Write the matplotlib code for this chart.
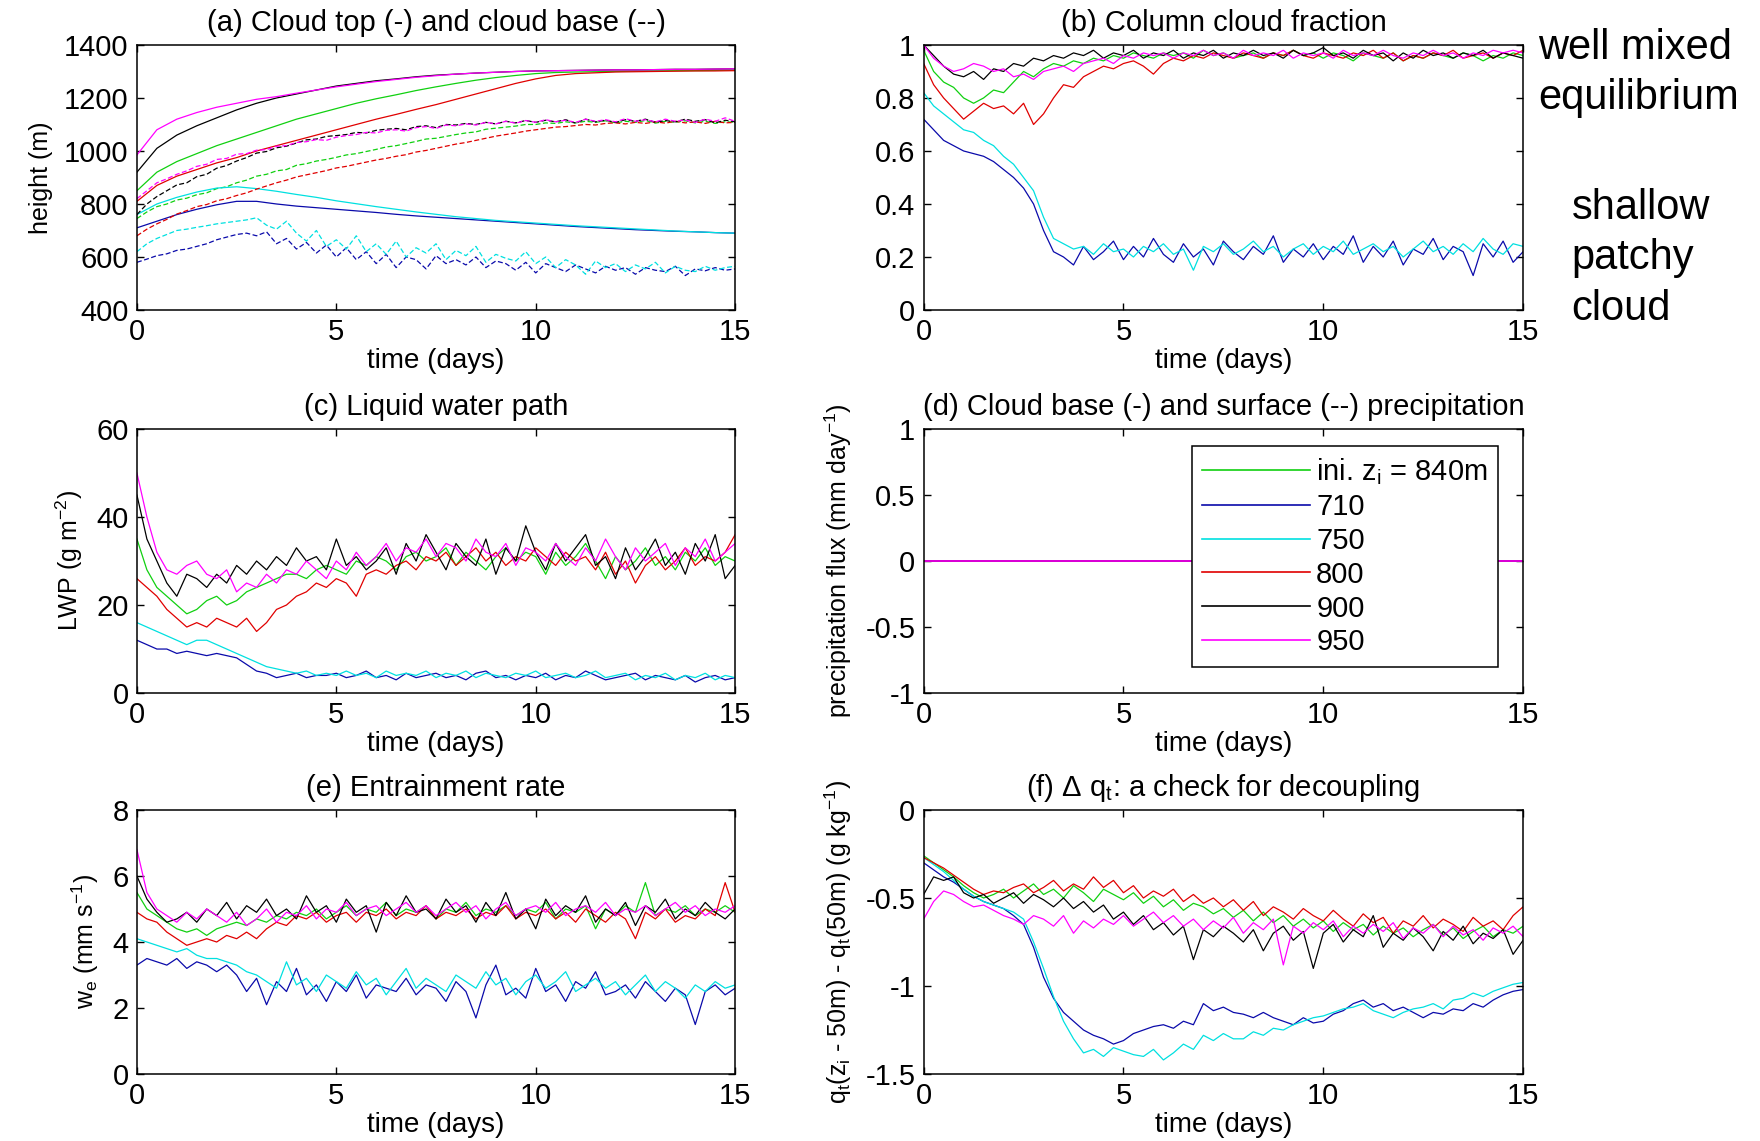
import numpy as np
import matplotlib
matplotlib.use("Agg")
import matplotlib.pyplot as plt
from matplotlib.ticker import FuncFormatter

plt.rcParams['font.family'] = ['Liberation Sans', 'DejaVu Sans']
plt.rcParams['mathtext.default'] = 'regular'

# time axes (days)
t = np.arange(61) * 0.25        # noisy series, every 6 h
t_top = np.arange(31) * 0.5     # smooth cloud-top series

runs = ["ini. z$_i$ = 840m", "710", "750", "800", "900", "950"]
colors = ["#10d010", "#0a0aaa", "#00e0e0", "#e00000", "#000000", "#ff00ff"]

# (a) cloud top (solid) and cloud base (dashed), m
grn_top = [850, 920, 960, 990, 1020, 1045, 1070, 1095, 1120, 1140, 1160, 1180, 1197, 1212, 1228, 1242,
           1255, 1267, 1277, 1285, 1292, 1296, 1298, 1299, 1300, 1301, 1302, 1303, 1303, 1304, 1305]
blu_top = [710, 735, 760, 780, 797, 810, 810, 800, 792, 786, 780, 774, 768, 761, 755, 750,
           745, 740, 735, 730, 725, 720, 715, 711, 707, 703, 700, 697, 695, 692, 690]
cyn_top = [760, 800, 825, 845, 860, 865, 858, 848, 836, 825, 812, 801, 790, 780, 770, 761,
           752, 745, 738, 733, 728, 723, 718, 714, 710, 706, 702, 698, 695, 692, 690]
red_top = [810, 870, 905, 930, 955, 975, 1000, 1020, 1040, 1060, 1080, 1100, 1120, 1138, 1157, 1175,
           1195, 1215, 1235, 1255, 1272, 1285, 1292, 1295, 1298, 1299, 1300, 1301, 1302, 1302, 1303]
blk_top = [920, 1010, 1060, 1095, 1125, 1155, 1180, 1200, 1215, 1230, 1245, 1255, 1265, 1272, 1280, 1286,
           1290, 1294, 1297, 1300, 1302, 1303, 1304, 1305, 1306, 1306, 1307, 1308, 1308, 1309, 1310]
mag_top = [985, 1080, 1120, 1145, 1165, 1180, 1195, 1205, 1218, 1230, 1242, 1252, 1262, 1270, 1278, 1284,
           1290, 1294, 1297, 1300, 1302, 1303, 1304, 1305, 1306, 1306, 1307, 1308, 1308, 1309, 1310]

grn_base = [745, 770, 790, 800, 815, 822, 835, 842, 858, 865,
            880, 890, 905, 912, 925, 930, 946, 952, 962, 968,
            976, 985, 990, 998, 1006, 1015, 1020, 1028, 1036, 1045,
            1048, 1055, 1062, 1068, 1072, 1082, 1086, 1090, 1094, 1100,
            1100, 1106, 1104, 1110, 1106, 1112, 1108, 1114, 1106, 1112,
            1108, 1115, 1105, 1112, 1108, 1114, 1106, 1112, 1104, 1110,
            1108]
blu_base = [580, 592, 605, 612, 625, 630, 640, 650, 665, 675,
            685, 690, 680, 695, 650, 670, 630, 655, 615, 645,
            600, 635, 590, 620, 575, 610, 560, 600, 590, 555,
            605, 575, 590, 570, 600, 560, 585, 575, 550, 580,
            540, 575, 560, 545, 570, 555, 540, 565, 550, 560,
            535, 560, 550, 545, 565, 530, 555, 548, 560, 550,
            555]
cyn_base = [620, 650, 670, 685, 700, 705, 712, 718, 725, 730,
            735, 740, 748, 720, 705, 735, 690, 660, 700, 640,
            665, 630, 680, 620, 650, 610, 660, 600, 635, 615,
            650, 590, 625, 605, 640, 580, 610, 595, 585, 620,
            575, 600, 560, 590, 570, 535, 585, 560, 575, 545,
            570, 555, 580, 540, 565, 550, 545, 565, 550, 560,
            565]
red_base = [680, 705, 725, 742, 762, 775, 790, 798, 812, 820,
            832, 842, 856, 868, 880, 890, 902, 910, 918, 926,
            936, 942, 950, 958, 966, 972, 980, 986, 996, 1002,
            1010, 1018, 1026, 1032, 1040, 1048, 1056, 1062, 1068, 1075,
            1080, 1085, 1090, 1092, 1096, 1100, 1098, 1104, 1106, 1102,
            1108, 1104, 1110, 1105, 1112, 1106, 1110, 1104, 1112, 1106,
            1108]
blk_base = [760, 800, 828, 850, 872, 880, 903, 912, 935, 945,
            962, 975, 992, 998, 1012, 1018, 1030, 1042, 1045, 1055,
            1058, 1062, 1070, 1068, 1078, 1082, 1085, 1080, 1092, 1095,
            1088, 1100, 1098, 1104, 1100, 1108, 1102, 1112, 1106, 1115,
            1108, 1116, 1110, 1118, 1105, 1120, 1110, 1116, 1108, 1118,
            1112, 1120, 1108, 1115, 1110, 1120, 1112, 1118, 1106, 1116,
            1110]
mag_base = [820, 850, 880, 895, 912, 925, 942, 950, 968, 972,
            988, 990, 1003, 1005, 1018, 1020, 1032, 1035, 1043, 1040,
            1052, 1058, 1062, 1070, 1068, 1078, 1080, 1075, 1088, 1092,
            1085, 1098, 1095, 1102, 1098, 1108, 1102, 1112, 1105, 1115,
            1108, 1118, 1110, 1116, 1108, 1120, 1112, 1118, 1110, 1122,
            1112, 1118, 1110, 1120, 1112, 1117, 1108, 1120, 1112, 1125,
            1112]

# (b) column cloud fraction
grn_cf = [0.98, 0.90, 0.86, 0.84, 0.80, 0.78, 0.80, 0.83, 0.82, 0.86,
          0.90, 0.88, 0.91, 0.93, 0.92, 0.94, 0.93, 0.95, 0.94, 0.96,
          0.95, 0.97, 0.96, 0.95, 0.97, 0.96, 0.97, 0.95, 0.98, 0.96,
          0.97, 0.95, 0.96, 0.97, 0.95, 0.97, 0.96, 0.98, 0.96, 0.97,
          0.95, 0.97, 0.96, 0.94, 0.97, 0.96, 0.95, 0.97, 0.94, 0.96,
          0.95, 0.97, 0.96, 0.95, 0.97, 0.96, 0.94, 0.96, 0.95, 0.97,
          0.96]
blu_cf = [0.72, 0.68, 0.64, 0.62, 0.60, 0.59, 0.58, 0.56, 0.53, 0.50,
          0.46, 0.40, 0.30, 0.22, 0.20, 0.17, 0.24, 0.19, 0.22, 0.26,
          0.19, 0.24, 0.20, 0.27, 0.21, 0.18, 0.25, 0.20, 0.23, 0.17,
          0.26, 0.22, 0.19, 0.24, 0.21, 0.28, 0.18, 0.23, 0.20, 0.25,
          0.19, 0.24, 0.21, 0.28, 0.18, 0.24, 0.20, 0.26, 0.17, 0.23,
          0.21, 0.27, 0.19, 0.24, 0.22, 0.13, 0.25, 0.20, 0.26, 0.18,
          0.22]
cyn_cf = [0.82, 0.77, 0.74, 0.71, 0.68, 0.67, 0.64, 0.62, 0.58, 0.55,
          0.50, 0.45, 0.35, 0.27, 0.25, 0.23, 0.24, 0.21, 0.25, 0.22,
          0.23, 0.20, 0.24, 0.22, 0.25, 0.21, 0.23, 0.15, 0.24, 0.22,
          0.25, 0.21, 0.23, 0.26, 0.22, 0.24, 0.20, 0.23, 0.25, 0.21,
          0.24, 0.22, 0.26, 0.21, 0.23, 0.25, 0.22, 0.24, 0.20, 0.23,
          0.26, 0.22, 0.24, 0.21, 0.25, 0.22, 0.27, 0.23, 0.21, 0.25,
          0.24]
red_cf = [0.93, 0.85, 0.80, 0.76, 0.72, 0.75, 0.78, 0.76, 0.77, 0.74,
          0.78, 0.70, 0.74, 0.80, 0.85, 0.84, 0.88, 0.90, 0.92, 0.91,
          0.93, 0.94, 0.92, 0.89, 0.93, 0.95, 0.94, 0.96, 0.95, 0.97,
          0.96, 0.95, 0.97, 0.96, 0.95, 0.97, 0.96, 0.98, 0.96, 0.95,
          0.97, 0.96, 0.95, 0.97, 0.96, 0.98, 0.95, 0.97, 0.94, 0.96,
          0.95, 0.97, 0.96, 0.98, 0.95, 0.96, 0.97, 0.95, 0.97, 0.96,
          0.98]
blk_cf = [1.00, 0.96, 0.92, 0.89, 0.88, 0.90, 0.87, 0.91, 0.90, 0.93,
          0.92, 0.95, 0.94, 0.96, 0.95, 0.97, 0.96, 0.98, 0.95, 0.97,
          0.96, 0.98, 0.95, 0.97, 0.96, 0.98, 0.95, 0.97, 0.96, 0.98,
          0.95, 0.97, 0.96, 0.98, 0.96, 0.97, 0.95, 0.98, 0.96, 0.97,
          0.99, 0.96, 0.97, 0.95, 0.98, 0.96, 0.97, 0.94, 0.97, 0.95,
          0.98, 0.96, 0.97, 0.95, 0.97, 0.96, 0.98, 0.95, 0.97, 0.96,
          0.95]
mag_cf = [1.00, 0.95, 0.92, 0.90, 0.91, 0.93, 0.92, 0.90, 0.91, 0.88,
          0.89, 0.87, 0.90, 0.91, 0.92, 0.90, 0.93, 0.94, 0.95, 0.93,
          0.96, 0.95, 0.97, 0.96, 0.97, 0.95, 0.97, 0.96, 0.98, 0.96,
          0.97, 0.95, 0.98, 0.96, 0.97, 0.96, 0.98, 0.95, 0.97, 0.96,
          0.97, 0.95, 0.98, 0.96, 0.97, 0.96, 0.98, 0.96, 0.95, 0.97,
          0.96, 0.98, 0.96, 0.97, 0.95, 0.97, 0.96, 0.98, 0.97, 0.98,
          0.97]

# (c) liquid water path, g m-2
grn_lwp = [35, 28, 24, 22, 20, 18, 19, 21, 22, 20,
           21, 23, 24, 25, 26, 27, 27, 26, 28, 29,
           28, 27, 30, 29, 31, 30, 28, 31, 32, 30,
           31, 33, 29, 32, 30, 28, 31, 33, 30, 32,
           31, 27, 32, 29, 31, 34, 30, 26, 31, 28,
           30, 33, 29, 31, 28, 32, 30, 33, 29, 31,
           30]
blu_lwp = [12, 11, 10, 10, 9, 9.5, 9, 8.5, 9, 8.5,
           8, 6.5, 5, 4.5, 3.5, 4, 4.5, 3.5, 4, 4,
           4.5, 3.5, 4, 5, 3.5, 4, 3, 4.5, 3.5, 4,
           4.5, 3.5, 4, 3, 4.5, 5, 3.5, 4, 3, 4,
           3.5, 4.5, 3, 4, 3.5, 5, 4, 3, 3.5, 4,
           4.5, 3, 4, 3.5, 3, 4, 2.5, 3.5, 4, 3,
           3.5]
cyn_lwp = [16, 15, 14, 13, 12, 11, 12, 12, 11, 10,
           9, 8, 7, 6, 5.5, 5, 4.5, 5, 4, 4.5,
           4, 5, 4, 4.5, 3.5, 5, 4, 4.5, 4, 5,
           3.5, 4.5, 4, 5, 3.5, 4.5, 4, 3.5, 4.5, 4,
           5, 3.5, 4, 4.5, 3.5, 4, 5, 3.5, 4, 4.5,
           3, 4, 3.5, 4.5, 3, 4, 3.5, 4.5, 3, 4,
           3.5]
red_lwp = [26, 24, 22, 19, 17, 15, 16, 15, 17, 16,
           15, 17, 14, 16, 19, 20, 22, 23, 25, 24,
           26, 25, 22, 27, 28, 27, 29, 30, 28, 31,
           30, 32, 29, 31, 33, 30, 32, 29, 31, 30,
           33, 31, 29, 32, 30, 31, 28, 32, 27, 30,
           25, 29, 31, 28, 30, 33, 29, 31, 30, 32,
           36]
blk_lwp = [45, 35, 30, 25, 22, 27, 26, 24, 27, 25,
           29, 27, 30, 28, 31, 29, 33, 30, 31, 28,
           35, 29, 31, 28, 30, 33, 27, 34, 30, 36,
           32, 28, 34, 31, 29, 35, 27, 33, 30, 38,
           32, 28, 34, 30, 33, 36, 29, 31, 26, 33,
           28, 31, 35, 29, 32, 27, 34, 30, 36, 26,
           29]
mag_lwp = [50, 40, 32, 28, 27, 29, 30, 27, 26, 28,
           23, 25, 24, 27, 25, 28, 27, 30, 28, 26,
           30, 28, 32, 29, 31, 34, 30, 33, 32, 35,
           31, 34, 33, 30, 35, 32, 31, 34, 29, 33,
           32, 30, 34, 31, 29, 33, 30, 35, 31, 28,
           33, 30, 32, 34, 29, 33, 31, 35, 30, 32,
           34]

# (d) precipitation is zero in every run
precip_zero = [0.0] * 61

# (e) entrainment rate, mm s-1
grn_we = [5.5, 5.0, 4.8, 4.6, 4.4, 4.3, 4.4, 4.2, 4.4, 4.5,
          4.6, 4.5, 4.7, 4.6, 4.8, 4.7, 4.9, 4.8, 5.0, 4.7,
          4.9, 5.1, 4.8, 5.0, 4.9, 5.2, 4.8, 5.0, 4.9, 5.1,
          4.7, 5.0, 4.9, 5.2, 4.8, 5.0, 4.9, 5.1, 4.8, 5.0,
          4.9, 5.2, 4.7, 5.0, 4.9, 5.1, 4.4, 5.0, 4.8, 5.1,
          4.9, 5.8, 4.8, 5.0, 4.9, 5.1, 4.8, 5.0, 4.9, 5.1,
          4.9]
blu_we = [3.3, 3.5, 3.4, 3.3, 3.5, 3.2, 3.4, 3.3, 3.1, 3.3,
          3.0, 2.5, 2.9, 2.1, 2.8, 2.5, 3.2, 2.4, 2.7, 2.2,
          2.8, 2.5, 3.0, 2.3, 2.7, 2.6, 2.5, 2.9, 2.4, 2.7,
          2.6, 2.2, 2.8, 2.5, 1.7, 2.7, 3.3, 2.4, 2.6, 2.3,
          3.2, 2.5, 2.7, 2.2, 2.8, 2.6, 3.1, 2.4, 2.5, 2.7,
          2.3, 2.8, 2.5, 2.2, 2.6, 2.4, 1.5, 2.5, 2.7, 2.4,
          2.6]
cyn_we = [4.1, 4.0, 3.9, 3.8, 3.7, 3.8, 3.6, 3.5, 3.5, 3.4,
          3.3, 3.1, 3.0, 2.8, 2.6, 3.4, 2.7, 2.9, 2.5, 3.0,
          2.8, 2.6, 3.1, 2.7, 2.9, 2.4, 2.8, 3.2, 2.6, 2.9,
          2.7, 2.5, 3.0, 2.8, 2.6, 3.1, 2.7, 2.9, 2.4, 2.8,
          3.0, 2.6, 2.8, 3.1, 2.5, 2.7, 2.9, 2.6, 2.8, 2.4,
          2.7, 3.0, 2.5, 2.8, 2.6, 2.3, 2.7, 2.5, 2.8, 2.6,
          2.7]
red_we = [4.9, 4.7, 4.6, 4.3, 4.1, 3.9, 4.0, 4.1, 4.0, 4.2,
          4.1, 4.3, 4.1, 4.4, 4.6, 4.5, 4.8, 4.7, 4.9, 4.6,
          4.8, 4.9, 4.6, 4.9, 4.8, 5.0, 4.7, 4.9, 4.8, 5.1,
          4.7, 4.9, 4.8, 5.0, 4.7, 4.9, 4.8, 5.1, 4.7, 4.9,
          4.8, 5.0, 4.7, 4.9, 4.6, 5.0, 4.8, 4.6, 4.9, 4.7,
          4.1, 4.9, 4.7, 5.0, 4.6, 4.8, 4.7, 5.0, 4.8, 5.8,
          4.9]
blk_we = [6.0, 5.3, 4.9, 4.6, 4.7, 4.9, 4.6, 5.0, 4.8, 5.2,
          4.7, 5.1, 4.9, 5.3, 4.8, 5.0, 4.7, 5.4, 4.9, 5.1,
          4.6, 5.3, 4.9, 5.1, 4.3, 5.2, 4.8, 5.4, 4.9, 5.0,
          4.7, 5.3, 4.9, 5.1, 4.6, 5.2, 4.8, 5.5, 4.7, 5.0,
          4.4, 5.3, 4.8, 5.1, 4.9, 5.4, 4.6, 5.0, 4.8, 5.2,
          4.5, 5.1, 4.9, 5.3, 4.7, 5.0, 4.8, 5.2, 4.9, 4.7,
          5.0]
mag_we = [6.8, 5.5, 5.0, 4.8, 4.6, 4.9, 4.7, 5.0, 4.8, 4.6,
          4.9, 4.5, 4.7, 5.0, 4.6, 4.9, 4.8, 5.1, 4.7, 5.0,
          4.9, 5.2, 4.8, 5.0, 5.1, 4.8, 5.0, 5.2, 4.9, 5.1,
          4.8, 5.0, 5.2, 4.9, 5.1, 4.7, 5.0, 5.2, 4.8, 5.0,
          5.1, 4.9, 5.2, 4.8, 5.0, 5.1, 4.9, 5.2, 4.8, 5.0,
          4.9, 5.1, 4.8, 5.0, 5.2, 4.9, 5.1, 4.8, 5.0, 4.9,
          5.1]

# (f) qt(zi - 50m) - qt(50m), g kg-1
grn_dq = [-0.26, -0.30, -0.34, -0.38, -0.43, -0.47, -0.50, -0.48, -0.45, -0.50,
          -0.46, -0.42, -0.48, -0.45, -0.50, -0.43, -0.47, -0.52, -0.45, -0.48,
          -0.51, -0.47, -0.53, -0.49, -0.55, -0.51, -0.57, -0.53, -0.55, -0.59,
          -0.56, -0.61, -0.57, -0.63, -0.58, -0.64, -0.60, -0.66, -0.62, -0.67,
          -0.63, -0.69, -0.64, -0.68, -0.65, -0.71, -0.66, -0.70, -0.67, -0.72,
          -0.68, -0.65, -0.71, -0.67, -0.73, -0.69, -0.66, -0.72, -0.68, -0.70,
          -0.66]
blu_dq = [-0.30, -0.34, -0.38, -0.41, -0.45, -0.49, -0.52, -0.54, -0.56, -0.60,
          -0.65, -0.78, -0.95, -1.07, -1.15, -1.20, -1.25, -1.28, -1.30, -1.33,
          -1.31, -1.27, -1.25, -1.23, -1.22, -1.24, -1.20, -1.22, -1.10, -1.14,
          -1.12, -1.15, -1.16, -1.18, -1.15, -1.18, -1.20, -1.22, -1.18, -1.21,
          -1.20, -1.16, -1.14, -1.10, -1.08, -1.12, -1.10, -1.14, -1.12, -1.15,
          -1.18, -1.15, -1.16, -1.13, -1.14, -1.10, -1.12, -1.08, -1.05, -1.03,
          -1.02]
cyn_dq = [-0.27, -0.31, -0.35, -0.40, -0.45, -0.49, -0.52, -0.54, -0.56, -0.58,
          -0.62, -0.75, -0.90, -1.06, -1.20, -1.30, -1.38, -1.36, -1.40, -1.35,
          -1.37, -1.39, -1.40, -1.36, -1.42, -1.38, -1.33, -1.36, -1.28, -1.31,
          -1.27, -1.30, -1.30, -1.26, -1.28, -1.24, -1.25, -1.22, -1.20, -1.18,
          -1.17, -1.15, -1.13, -1.12, -1.10, -1.14, -1.16, -1.18, -1.15, -1.13,
          -1.12, -1.10, -1.13, -1.08, -1.07, -1.04, -1.06, -1.03, -1.01, -0.99,
          -0.98]
red_dq = [-0.27, -0.30, -0.33, -0.37, -0.41, -0.45, -0.48, -0.46, -0.47, -0.44,
          -0.42, -0.47, -0.44, -0.40, -0.46, -0.42, -0.45, -0.38, -0.44, -0.40,
          -0.47, -0.43, -0.50, -0.46, -0.49, -0.45, -0.52, -0.48, -0.53, -0.50,
          -0.55, -0.51, -0.57, -0.52, -0.60, -0.55, -0.58, -0.62, -0.56, -0.60,
          -0.63, -0.57, -0.62, -0.66, -0.59, -0.64, -0.61, -0.70, -0.63, -0.66,
          -0.60, -0.67, -0.62, -0.65, -0.69, -0.61, -0.66, -0.63, -0.68, -0.60,
          -0.55]
blk_dq = [-0.48, -0.38, -0.40, -0.38, -0.47, -0.50, -0.48, -0.53, -0.50, -0.47,
          -0.53, -0.48, -0.51, -0.55, -0.50, -0.56, -0.52, -0.58, -0.54, -0.62,
          -0.58, -0.65, -0.60, -0.68, -0.64, -0.71, -0.66, -0.85, -0.68, -0.72,
          -0.66, -0.70, -0.75, -0.68, -0.80, -0.70, -0.66, -0.74, -0.69, -0.90,
          -0.70, -0.65, -0.75, -0.68, -0.72, -0.60, -0.78, -0.70, -0.74, -0.67,
          -0.72, -0.80, -0.69, -0.74, -0.66, -0.76, -0.70, -0.73, -0.68, -0.82,
          -0.74]
mag_dq = [-0.62, -0.52, -0.46, -0.48, -0.52, -0.55, -0.54, -0.57, -0.60, -0.62,
          -0.65, -0.60, -0.62, -0.66, -0.60, -0.70, -0.63, -0.67, -0.62, -0.65,
          -0.60, -0.66, -0.62, -0.58, -0.64, -0.60, -0.66, -0.62, -0.68, -0.63,
          -0.67, -0.61, -0.70, -0.64, -0.68, -0.62, -0.88, -0.66, -0.70, -0.64,
          -0.68, -0.63, -0.72, -0.66, -0.70, -0.65, -0.69, -0.64, -0.73, -0.67,
          -0.70, -0.65, -0.72, -0.66, -0.71, -0.68, -0.74, -0.67, -0.70, -0.66,
          -0.72]

FS = 21
FS_XLAB = 20
FS_YLAB = 18
LW = 0.9


def style_axes(ax, title, ylabel, ylim, yticks):
    ax.set_xlim(0, 15)
    ax.set_ylim(*ylim)
    ax.set_xticks([0, 5, 10, 15])
    ax.set_yticks(yticks)
    ax.yaxis.set_major_formatter(FuncFormatter(lambda v, p: "%g" % v))
    ax.tick_params(direction='in', top=True, right=True, length=5, width=1,
                   labelsize=FS, pad=6)
    for s in ax.spines.values():
        s.set_linewidth(1.1)
    ax.set_title(title, fontsize=FS, pad=10)
    ax.set_xlabel("time (days)", fontsize=FS_XLAB, labelpad=1)
    if ylabel:
        ax.set_ylabel(ylabel, fontsize=FS_YLAB, labelpad=8)


fig = plt.figure(figsize=(17.6, 11.41), dpi=100)
ax_a = fig.add_axes([0.0778, 0.7283, 0.3399, 0.2323])
ax_b = fig.add_axes([0.5248, 0.7283, 0.3406, 0.2323])
ax_c = fig.add_axes([0.0778, 0.3926, 0.3399, 0.2314])
ax_d = fig.add_axes([0.5248, 0.3926, 0.3406, 0.2314])
ax_e = fig.add_axes([0.0778, 0.0587, 0.3399, 0.2314])
ax_f = fig.add_axes([0.5248, 0.0587, 0.3406, 0.2314])

# (a)
tops = [grn_top, blu_top, cyn_top, red_top, blk_top, mag_top]
bases = [grn_base, blu_base, cyn_base, red_base, blk_base, mag_base]
for top, base, c in zip(tops, bases, colors):
    ax_a.plot(t_top, top, color=c, lw=LW)
    ax_a.plot(t, base, color=c, lw=LW, ls=(0, (4, 2)))
style_axes(ax_a, "(a) Cloud top (-) and cloud base (--)", "height (m)",
           (400, 1400), [400, 600, 800, 1000, 1200, 1400])

# (b)
for y, c in zip([grn_cf, blu_cf, cyn_cf, red_cf, blk_cf, mag_cf], colors):
    ax_b.plot(t, y, color=c, lw=LW)
style_axes(ax_b, "(b) Column cloud fraction", None, (0, 1),
           [0, 0.2, 0.4, 0.6, 0.8, 1])

# (c)
for y, c in zip([grn_lwp, blu_lwp, cyn_lwp, red_lwp, blk_lwp, mag_lwp], colors):
    ax_c.plot(t, y, color=c, lw=LW)
style_axes(ax_c, "(c) Liquid water path", "LWP (g m$^{-2}$)", (0, 60), [0, 20, 40, 60])

# (d)
for lab, c in zip(runs, colors):
    ax_d.plot(t, precip_zero, color=c, lw=1.2, label=lab)
style_axes(ax_d, "(d) Cloud base (-) and surface (--) precipitation",
           "precipitation flux (mm day$^{-1}$)", (-1, 1), [-1, -0.5, 0, 0.5, 1])
leg = ax_d.legend(loc='upper left', bbox_to_anchor=(0.448, 0.935), fontsize=FS,
                  handlelength=3.7, handletextpad=0.2, labelspacing=0.2,
                  borderpad=0.35, borderaxespad=0, fancybox=False, framealpha=1,
                  edgecolor='black')
leg.get_frame().set_linewidth(1.1)

# (e)
for y, c in zip([grn_we, blu_we, cyn_we, red_we, blk_we, mag_we], colors):
    ax_e.plot(t, y, color=c, lw=LW)
style_axes(ax_e, "(e) Entrainment rate", "w$_e$ (mm s$^{-1}$)", (0, 8), [0, 2, 4, 6, 8])

# (f)
for y, c in zip([grn_dq, blu_dq, cyn_dq, red_dq, blk_dq, mag_dq], colors):
    ax_f.plot(t, y, color=c, lw=LW)
style_axes(ax_f, "(f) \u0394 q$_t$: a check for decoupling",
           "q$_t$(z$_i$ - 50m) - q$_t$(50m) (g kg$^{-1}$)", (-1.5, 0), [-1.5, -1, -0.5, 0])

# regime annotations on the right of panel (b)
fig.text(0.874, 1 - 48 / 1141, "well mixed", fontsize=30, va='center', ha='left')
fig.text(0.874, 1 - 98 / 1141, "equilibrium", fontsize=30, va='center', ha='left')
fig.text(0.893, 1 - 208 / 1141, "shallow", fontsize=30, va='center', ha='left')
fig.text(0.893, 1 - 258 / 1141, "patchy", fontsize=30, va='center', ha='left')
fig.text(0.893, 1 - 309 / 1141, "cloud", fontsize=30, va='center', ha='left')

fig.savefig("out.png", dpi=100)
